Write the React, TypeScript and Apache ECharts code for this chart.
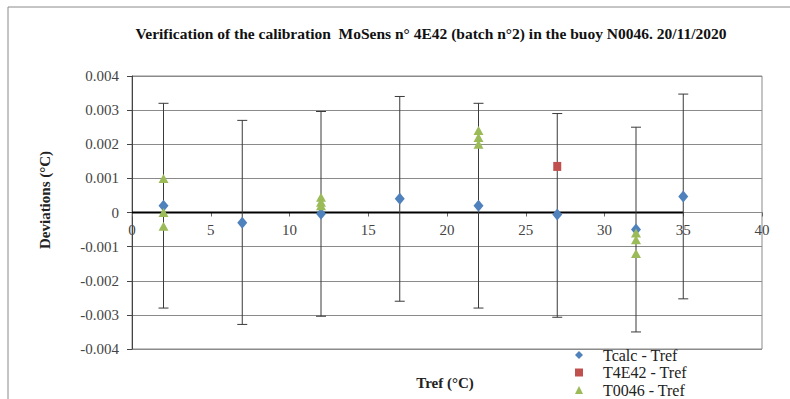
import React, { useEffect, useRef } from "react";
import * as echarts from "echarts";

const TITLE = "Verification of the calibration  MoSens n° 4E42 (batch n°2) in the buoy N0046. 20/11/2020";
const Y_NAME = "Deviations (°C)";
const X_NAME = "Tref (°C)";

const trefPoints = [2, 7, 12, 17, 22, 27, 32, 35];
const tcalcValues = [0.0002, -0.0003, -0.00004, 0.0004, 0.0002, -0.00006, -0.0005, 0.00047];
const errHigh = [0.0032, 0.0027, 0.00296, 0.0034, 0.0032, 0.0029, 0.0025, 0.00347];
const errLow = [-0.0028, -0.00328, -0.00304, -0.0026, -0.0028, -0.00307, -0.0035, -0.00253];

const t4e42X = [27];
const t4e42Values = [0.00135];

const t0046X = [2, 2, 2, 12, 12, 12, 22, 22, 22, 32, 32, 32];
const t0046Values = [0.001, 0.0, -0.0004, 0.00045, 0.0003, 0.0002, 0.0024, 0.0022, 0.002, -0.0006, -0.0008, -0.0012];

const zeroLineX = [0, 35];
const zeroLineY = [0, 0];

const legendNames = ["Tcalc - Tref", "T4E42 - Tref", "T0046 - Tref"];
const legendIcons = ["diamond", "rect", "triangle"];

const FONT = "Liberation Serif, Times New Roman, serif";

export default function App() {
  const ref = useRef<HTMLDivElement>(null);
  useEffect(() => {
    if (!ref.current) return;
    const chart = echarts.init(ref.current, null, { renderer: "svg" });
    const option: any = {
      animation: false,
      backgroundColor: "#ffffff",
      textStyle: { fontFamily: FONT },
      grid: {
        left: 132,
        right: 28,
        top: 76,
        bottom: 50,
        show: true,
        borderColor: "#8a8a8a",
        borderWidth: 1,
        backgroundColor: "transparent",
      },
      xAxis: {
        type: "value",
        min: 0,
        max: 40,
        interval: 5,
        offset: -136.5,
        axisLine: { show: true, onZero: false, lineStyle: { color: "#8a8a8a", width: 1 } },
        axisTick: { show: true, length: 4, lineStyle: { color: "#666" } },
        axisLabel: { color: "#444", fontFamily: FONT, fontSize: 15, margin: 10 },
        splitLine: { show: false },
      },
      yAxis: {
        type: "value",
        min: -0.004,
        max: 0.004,
        interval: 0.001,
        axisLine: { show: true, onZero: false, lineStyle: { color: "#444", width: 1 } },
        axisTick: { show: true, length: 5, lineStyle: { color: "#444" } },
        axisLabel: {
          color: "#444",
          fontFamily: FONT,
          fontSize: 15,
          margin: 13,
          formatter: (v: number) => (Math.abs(v) < 1e-9 ? "0" : v.toFixed(3)),
        },
        splitLine: { show: true, lineStyle: { color: "#8a8a8a", width: 1 } },
      },
      legend: legendNames.map((name, i) => ({
        orient: "vertical",
        left: 575,
        top: 347 + i * 17.5,
        padding: 0,
        itemWidth: 8,
        itemHeight: 8,
        textStyle: {
          fontFamily: FONT,
          fontSize: 16,
          color: "#222",
          padding: [0, 0, 0, 15],
        },
        data: [{ name, icon: legendIcons[i] }],
      })),
      graphic: [
        {
          type: "rect",
          silent: true,
          shape: { x: 8, y: 7, width: 820, height: 440 },
          style: { fill: "none", stroke: "#8a8a8a", lineWidth: 1 },
        },
        {
          type: "text",
          x: 431,
          y: 33,
          style: {
            text: TITLE,
            fontFamily: FONT,
            fontSize: 15.5,
            fontWeight: "bold",
            fill: "#111",
            textAlign: "center",
            textVerticalAlign: "middle",
          },
        },
        {
          type: "text",
          x: 445,
          y: 383,
          style: {
            text: X_NAME,
            fontFamily: FONT,
            fontSize: 15,
            fontWeight: "bold",
            fill: "#222",
            textAlign: "center",
            textVerticalAlign: "middle",
          },
        },
        {
          type: "text",
          x: 45,
          y: 200,
          rotation: Math.PI / 2,
          style: {
            text: Y_NAME,
            fontFamily: FONT,
            fontSize: 15,
            fontWeight: "bold",
            fill: "#222",
            textAlign: "center",
            textVerticalAlign: "middle",
          },
        },
      ],
      series: [
        {
          name: "zero",
          type: "line",
          data: zeroLineX.map((x, i) => [x, zeroLineY[i]]),
          symbol: "none",
          lineStyle: { color: "#000", width: 2 },
          silent: true,
          z: 3,
        },
        {
          name: "errorbars",
          type: "custom",
          data: trefPoints.map((x, i) => [x, errLow[i], errHigh[i]]),
          renderItem: (params: any, api: any) => {
            const x = api.value(0);
            const top = api.coord([x, api.value(2)]);
            const bot = api.coord([x, api.value(1)]);
            const cap = 5;
            const style = { stroke: "#3a3a3a", lineWidth: 1 };
            return {
              type: "group",
              children: [
                { type: "line", shape: { x1: top[0], y1: top[1], x2: bot[0], y2: bot[1] }, style },
                { type: "line", shape: { x1: top[0] - cap, y1: top[1], x2: top[0] + cap, y2: top[1] }, style },
                { type: "line", shape: { x1: bot[0] - cap, y1: bot[1], x2: bot[0] + cap, y2: bot[1] }, style },
              ],
            };
          },
          z: 4,
          silent: true,
        },
        {
          name: "Tcalc - Tref",
          type: "scatter",
          symbol: "diamond",
          symbolSize: [10, 12],
          itemStyle: { color: "#4F81BD", opacity: 1 },
          data: trefPoints.map((x, i) => [x, tcalcValues[i]]),
          z: 5,
        },
        {
          name: "T4E42 - Tref",
          type: "scatter",
          symbol: "rect",
          symbolSize: [8, 9],
          itemStyle: { color: "#C0504D", opacity: 1 },
          data: t4e42X.map((x, i) => [x, t4e42Values[i]]),
          z: 6,
        },
        {
          name: "T0046 - Tref",
          type: "scatter",
          symbol: "triangle",
          symbolSize: [10, 9],
          itemStyle: { color: "#9BBB59", opacity: 1 },
          data: t0046X.map((x, i) => [x, t0046Values[i]]),
          z: 7,
        },
      ],
    };
    chart.setOption(option);
    return () => chart.dispose();
  }, []);
  return (
    <div
      ref={ref}
      style={{ position: "fixed", left: 0, top: 0, width: 790, height: 399, background: "#fff" }}
    />
  );
}
